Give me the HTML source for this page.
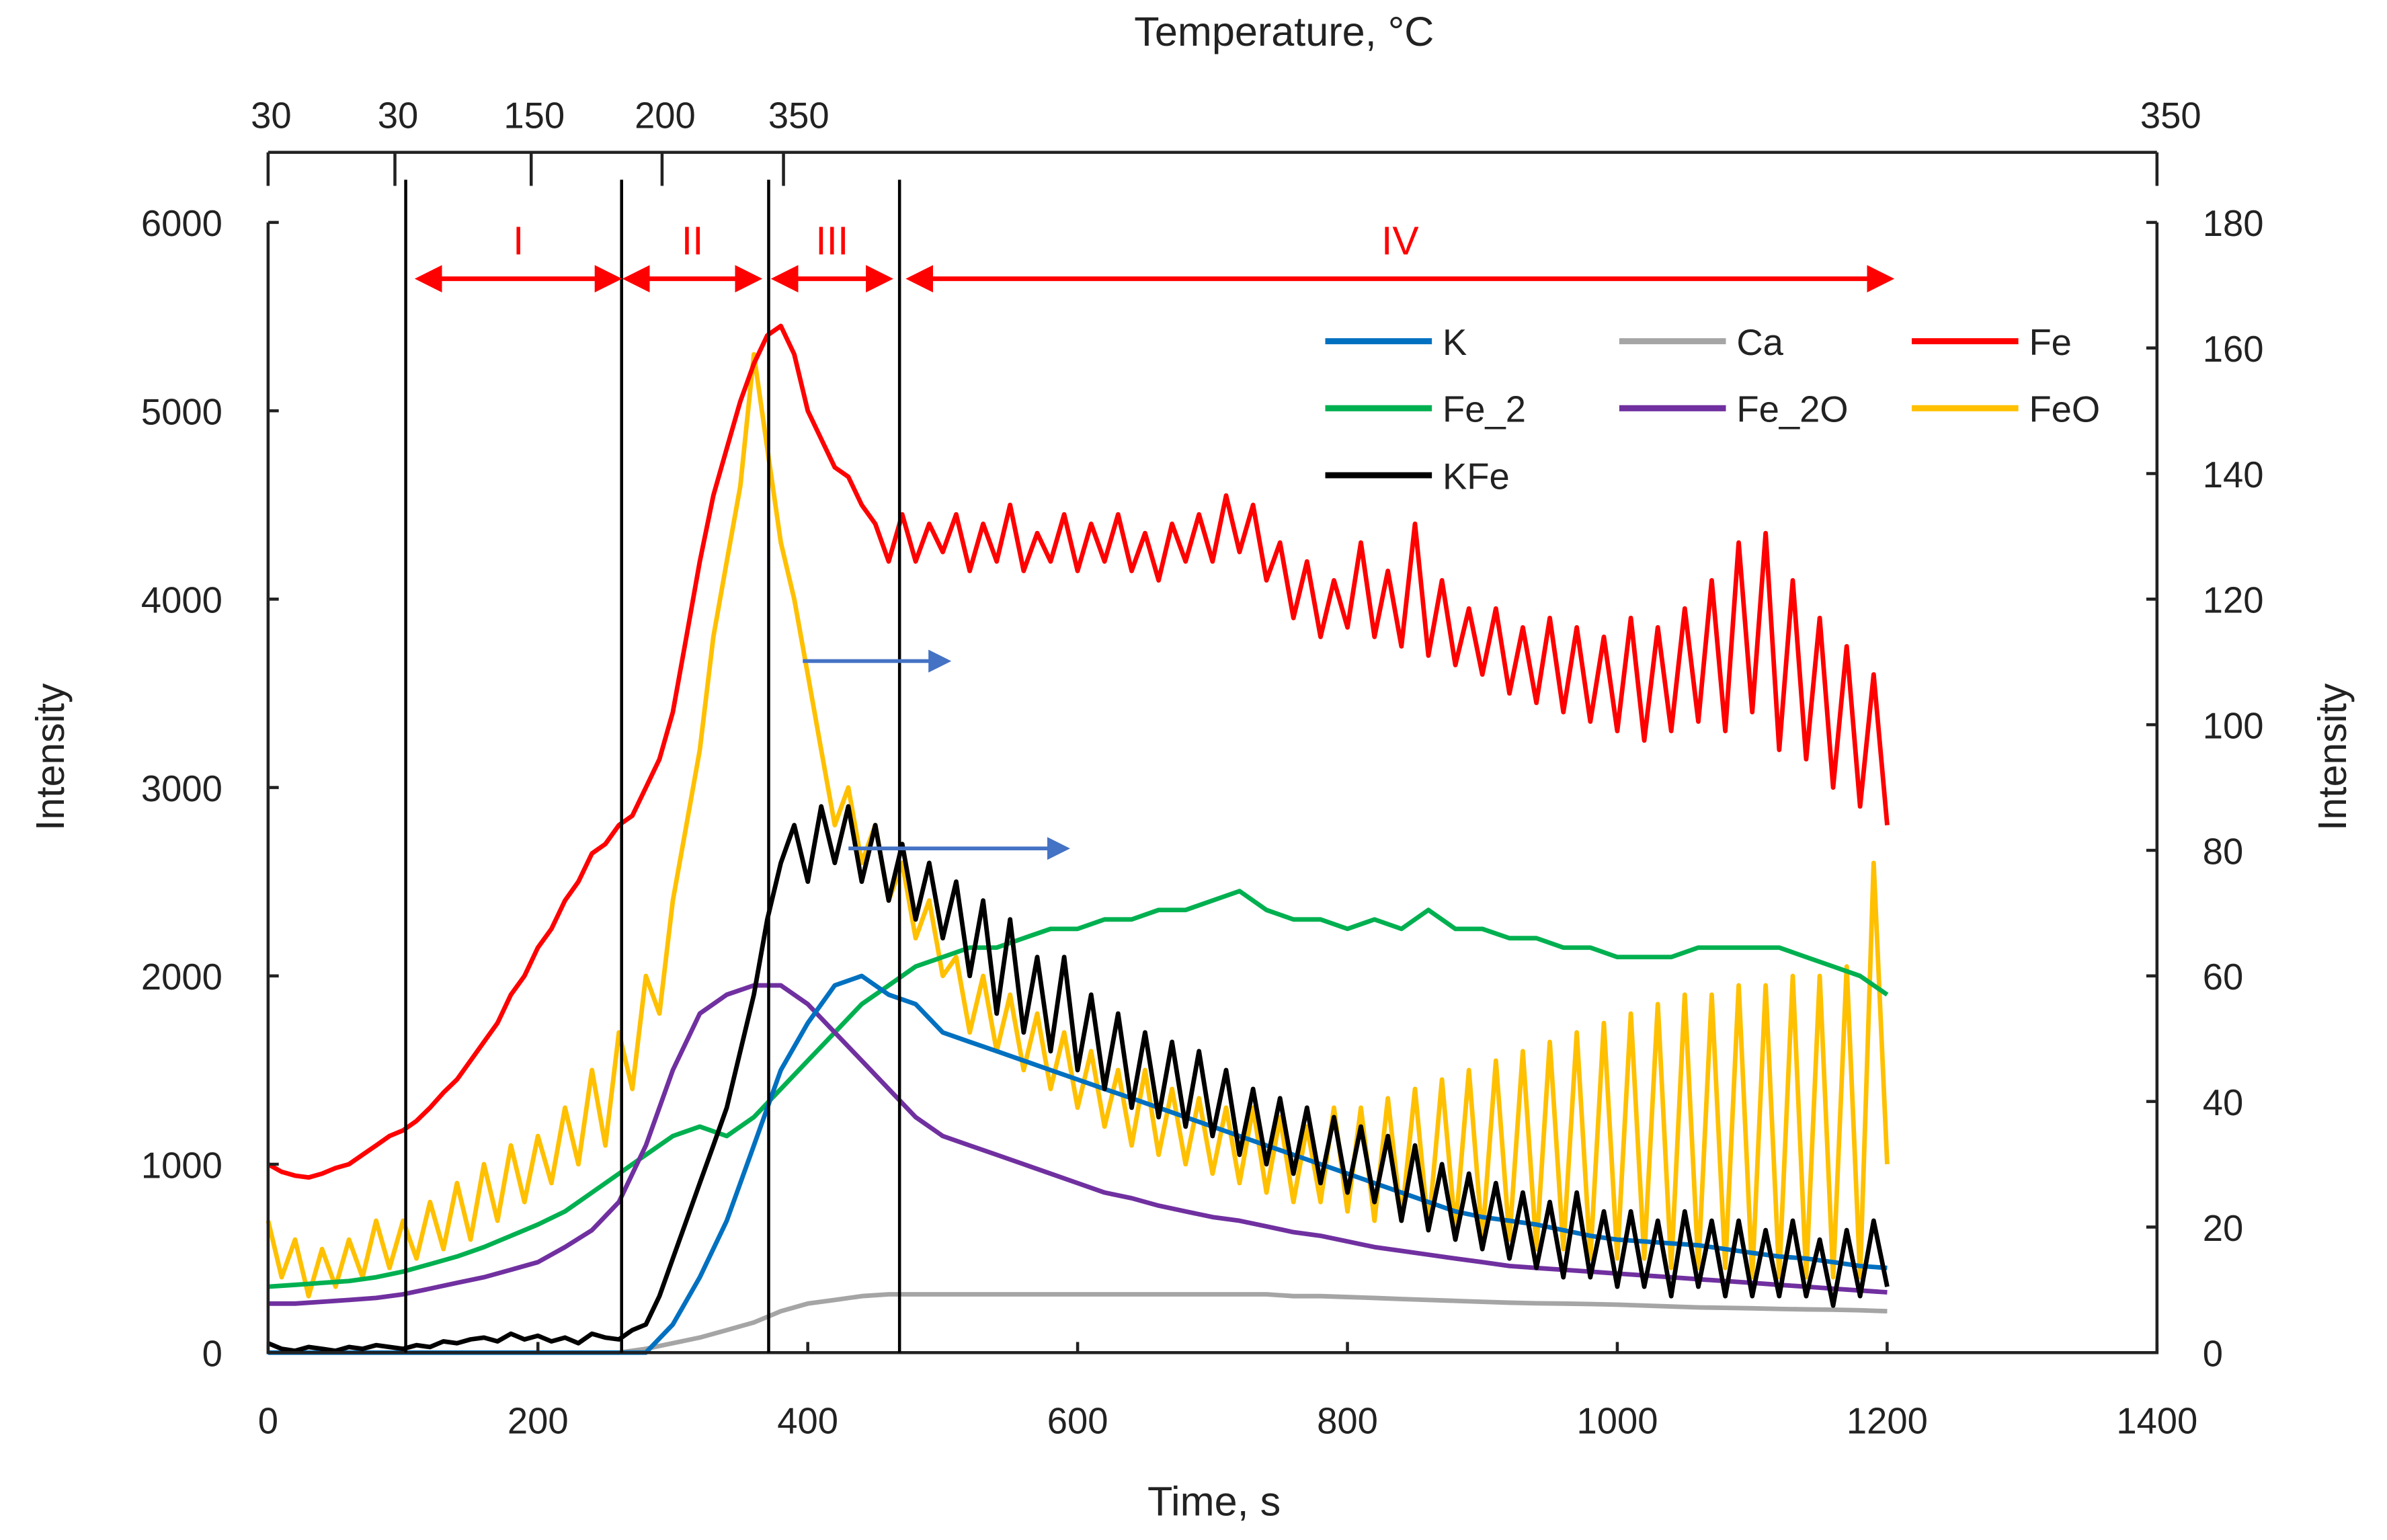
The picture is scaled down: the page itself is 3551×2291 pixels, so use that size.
<!DOCTYPE html>
<html><head><meta charset="utf-8"><style>
html,body{margin:0;padding:0;background:#fff;}
svg{display:block;}
text{font-family:"Liberation Sans",sans-serif;fill:#222;}
</style></head><body>
<svg id="chart" width="3551" height="2291" viewBox="0 0 1567 1011" preserveAspectRatio="none" xmlns="http://www.w3.org/2000/svg">
<rect width="1567" height="1011" fill="#fff"/>
<g id="plot"></g>
<g id="deco"></g>
</svg>
<script>
const xTicks=[0,200,400,600,800,1000,1200,1400];
const yTicksL=[0,1000,2000,3000,4000,5000,6000];
const yTicksR=[0,20,40,60,80,100,120,140,160,180];
const tempLabels=["30","30","150","200","350","350"];
const tempTimes=[0,94,195,292,382,1400];
const phaseLines=[102,262,371,468];
const phaseNames=["I","II","III","IV"];
const phaseStarts=[112,266,376,476];
const phaseEnds=[259,363,460,1202];
const times10=Array.from({length:121},(_,i)=>i*10);
const times20=Array.from({length:61},(_,i)=>i*20);
const Fe=[1000,960,940,930,950,980,1000,1050,1100,1150,1180,
1230,1300,1380,1450,1550,1650,1750,1900,2000,2150,
2250,2400,2500,2650,2700,2800,2850,3000,3150,3400,
3800,4200,4550,4800,5050,5250,5400,5450,5300,5000,
4850,4700,4650,4500,4400,4200,4450,4200,4400,4250,
4450,4150,4400,4200,4500,4150,4350,4200,4450,4150,
4400,4200,4450,4150,4350,4100,4400,4200,4450,4200,
4550,4250,4500,4100,4300,3900,4200,3800,4100,3850,
4300,3800,4150,3750,4400,3700,4100,3650,3950,3600,
3950,3500,3850,3450,3900,3400,3850,3350,3800,3300,
3900,3250,3850,3300,3950,3350,4100,3300,4300,3400,
4350,3200,4100,3150,3900,3000,3750,2900,3600,2800];
const FeO=[700,400,600,300,550,350,600,400,700,450,700,
500,800,550,900,600,1000,700,1100,800,1150,
900,1300,1000,1500,1100,1700,1400,2000,1800,2400,
2800,3200,3800,4200,4600,5300,4800,4300,4000,3600,
3200,2800,3000,2600,2800,2400,2600,2200,2400,2000,
2100,1700,2000,1600,1900,1500,1800,1400,1700,1300,
1600,1200,1500,1100,1500,1050,1400,1000,1350,950,
1300,900,1300,850,1250,800,1200,800,1300,750,
1300,700,1350,700,1400,650,1450,650,1500,600,
1550,600,1600,550,1650,550,1700,500,1750,500,
1800,500,1850,450,1900,450,1900,450,1950,400,
1950,400,2000,400,2000,400,2050,400,2600,1000];
const KFe=[50,20,10,30,20,10,30,20,40,30,20,
40,30,60,50,70,80,60,100,70,90,
60,80,50,100,80,70,120,150,300,500,
700,900,1100,1300,1600,1900,2300,2600,2800,2500,
2900,2600,2900,2500,2800,2400,2700,2300,2600,2200,
2500,2000,2400,1800,2300,1700,2100,1600,2100,1500,
1900,1400,1800,1300,1700,1250,1650,1200,1600,1150,
1500,1050,1400,1000,1350,950,1300,900,1250,850,
1200,800,1150,700,1100,650,1000,600,950,550,
900,500,850,450,800,400,850,400,750,350,
750,350,700,300,750,350,700,300,700,300,
650,300,700,300,600,250,650,300,700,350];
const Fe2=[350,360,370,380,400,430,470,510,560,620,680,750,850,950,1050,1150,1200,1150,1250,1400,1550,1700,1850,1950,2050,2100,2150,2150,2200,2250,2250,2300,2300,2350,2350,2400,2450,2350,2300,2300,2250,2300,2250,2350,2250,2250,2200,2200,2150,2150,2100,2100,2100,2150,2150,2150,2150,2100,2050,2000,1900];
const Fe2O=[260,260,270,280,290,310,340,370,400,440,480,560,650,800,1100,1500,1800,1900,1950,1950,1850,1700,1550,1400,1250,1150,1100,1050,1000,950,900,850,820,780,750,720,700,670,640,620,590,560,540,520,500,480,460,450,440,430,420,410,400,390,380,370,360,350,340,330,320];
const Ca=[0,0,0,0,0,0,0,0,0,0,0,0,0,0,20,50,80,120,160,220,260,280,300,310,310,310,310,310,310,310,310,310,310,310,310,310,310,310,300,300,295,290,285,280,275,270,265,262,260,258,255,250,245,240,238,235,232,230,228,225,220];
const K=[0,0,0,0,0,0,0,0,0,0,0,0,0,0,0,150,400,700,1100,1500,1750,1950,2000,1900,1850,1700,1650,1600,1550,1500,1450,1400,1350,1300,1250,1200,1150,1100,1050,1000,950,900,850,800,750,720,700,680,650,620,600,590,580,570,550,530,510,500,480,460,450];

const NS='http://www.w3.org/2000/svg';
const L=176,R=1416,T=146,B=888;
const xs=t=>L+t*(R-L)/1400;
const ys=v=>B-v*(B-T)/6000;
const ysR=v=>B-v*(B-T)/180;
const plot=document.getElementById('plot');
const deco=document.getElementById('deco');
function mk(tag,attrs,parent){const e=document.createElementNS(NS,tag);for(const k in attrs)e.setAttribute(k,attrs[k]);(parent||plot).appendChild(e);return e;}
function txt(s,x,y,size,anchor,parent,color){const e=mk('text',{x:x,y:y,'font-size':size,'text-anchor':anchor||'middle'},parent);e.textContent=s;if(color)e.setAttribute('style','fill:'+color);return e;}

function series(times,vals,color,name){
  const d=vals.map((v,i)=>(i?'L':'M')+xs(times[i]).toFixed(1)+','+ys(v).toFixed(1)).join('');
  const p=mk('path',{d:d,fill:'none',stroke:color,'stroke-width':3,'stroke-linejoin':'round'});
  
  
}
series(times20,Ca,'#a5a5a5','series-ca');
series(times10,FeO,'#ffc000','series-feo');
series(times20,Fe2,'#00b050','series-fe-2');
series(times20,Fe2O,'#7030a0','series-fe-2o');
series(times10,Fe,'#ff0000','series-fe');
series(times20,K,'#0070c0','series-k');
series(times10,KFe,'#000000','series-kfe');

let ax=mk('path',{d:`M${L},${T}V${B}H${R}V${T}`,fill:'none',stroke:'#222','stroke-width':2},deco);


xTicks.forEach(t=>{mk('line',{x1:xs(t),x2:xs(t),y1:B,y2:B-7,stroke:'#222','stroke-width':2},deco);
  const e=txt(String(t),xs(t),941,24,'middle',deco);
  
  });
yTicksL.forEach(v=>{mk('line',{x1:L,x2:L+7,y1:ys(v),y2:ys(v),stroke:'#222','stroke-width':2},deco);
  const e=txt(String(v),146,ys(v)+9,24,'end',deco);
  
  });
yTicksR.forEach(v=>{mk('line',{x1:R,x2:R-7,y1:ysR(v),y2:ysR(v),stroke:'#222','stroke-width':2},deco);
  const e=txt(String(v),1446,ysR(v)+9,24,'start',deco);
  
  });
mk('line',{x1:L,x2:R,y1:100,y2:100,stroke:'#222','stroke-width':2},deco);
tempTimes.forEach((t,i)=>{const x=xs(t);mk('line',{x1:x,x2:x,y1:100,y2:122,stroke:'#222','stroke-width':2},deco);
  const e=txt(tempLabels[i],i===5?1425:(i===0?178:x+2+(i===4?8:0)),84,24,'middle',deco);
  
  });
let t1=txt('Temperature, \u00B0C',843,30,27,'middle',deco);


let t2=txt('Time, s',797,995,27,'middle',deco);


let t3=txt('Intensity',0,0,26,'middle',deco);t3.setAttribute('transform','translate(42,497) rotate(-90)');


let t4=txt('Intensity',0,0,26,'middle',deco);t4.setAttribute('transform','translate(1540,497) rotate(-90)');


mk('defs',{},deco).innerHTML='<marker id="ar" markerWidth="6" markerHeight="6" refX="5" refY="3" orient="auto-start-reverse" markerUnits="strokeWidth"><path d="M0,0L6,3L0,6z" fill="#ff0000"/></marker><marker id="ab" markerWidth="6" markerHeight="6" refX="5" refY="3" orient="auto" markerUnits="strokeWidth"><path d="M0,0L6,3L0,6z" fill="#4472c4"/></marker>';
phaseLines.forEach(t=>{const l=mk('line',{x1:xs(t),x2:xs(t),y1:118,y2:B,stroke:'#000','stroke-width':2},deco);
  
  });
phaseNames.forEach((n,i)=>{const a=mk('line',{x1:xs(phaseStarts[i]),x2:xs(phaseEnds[i]),y1:183,y2:183,stroke:'#ff0000','stroke-width':3,'marker-start':'url(#ar)','marker-end':'url(#ar)'},deco);
  
  
  const e=txt(n,(xs(phaseStarts[i])+xs(phaseEnds[i]))/2,167,26,'middle',deco,'#ff0000');
  
  });
[[527,434,622],[557,557,700]].forEach(a=>{const l=mk('line',{x1:a[0],x2:a[2],y1:a[1],y2:a[1],stroke:'#4472c4','stroke-width':2.5,'marker-end':'url(#ab)'},deco);
  
  });
const legNames=['K','Ca','Fe','Fe_2','Fe_2O','FeO','KFe'];
const legColors=['#0070c0','#a5a5a5','#ff0000','#00b050','#7030a0','#ffc000','#000000'];
const legX=[870,1063,1255],legY=[224,268,312];
legNames.forEach((n,i)=>{const x=legX[i%3],y=legY[Math.floor(i/3)];
  const l=mk('line',{x1:x,x2:x+70,y1:y,y2:y,stroke:legColors[i],'stroke-width':4},deco);
  
  
  const e=txt(n,x+77,y+9,24,'start',deco);
  
  });
</script>
</body></html>
